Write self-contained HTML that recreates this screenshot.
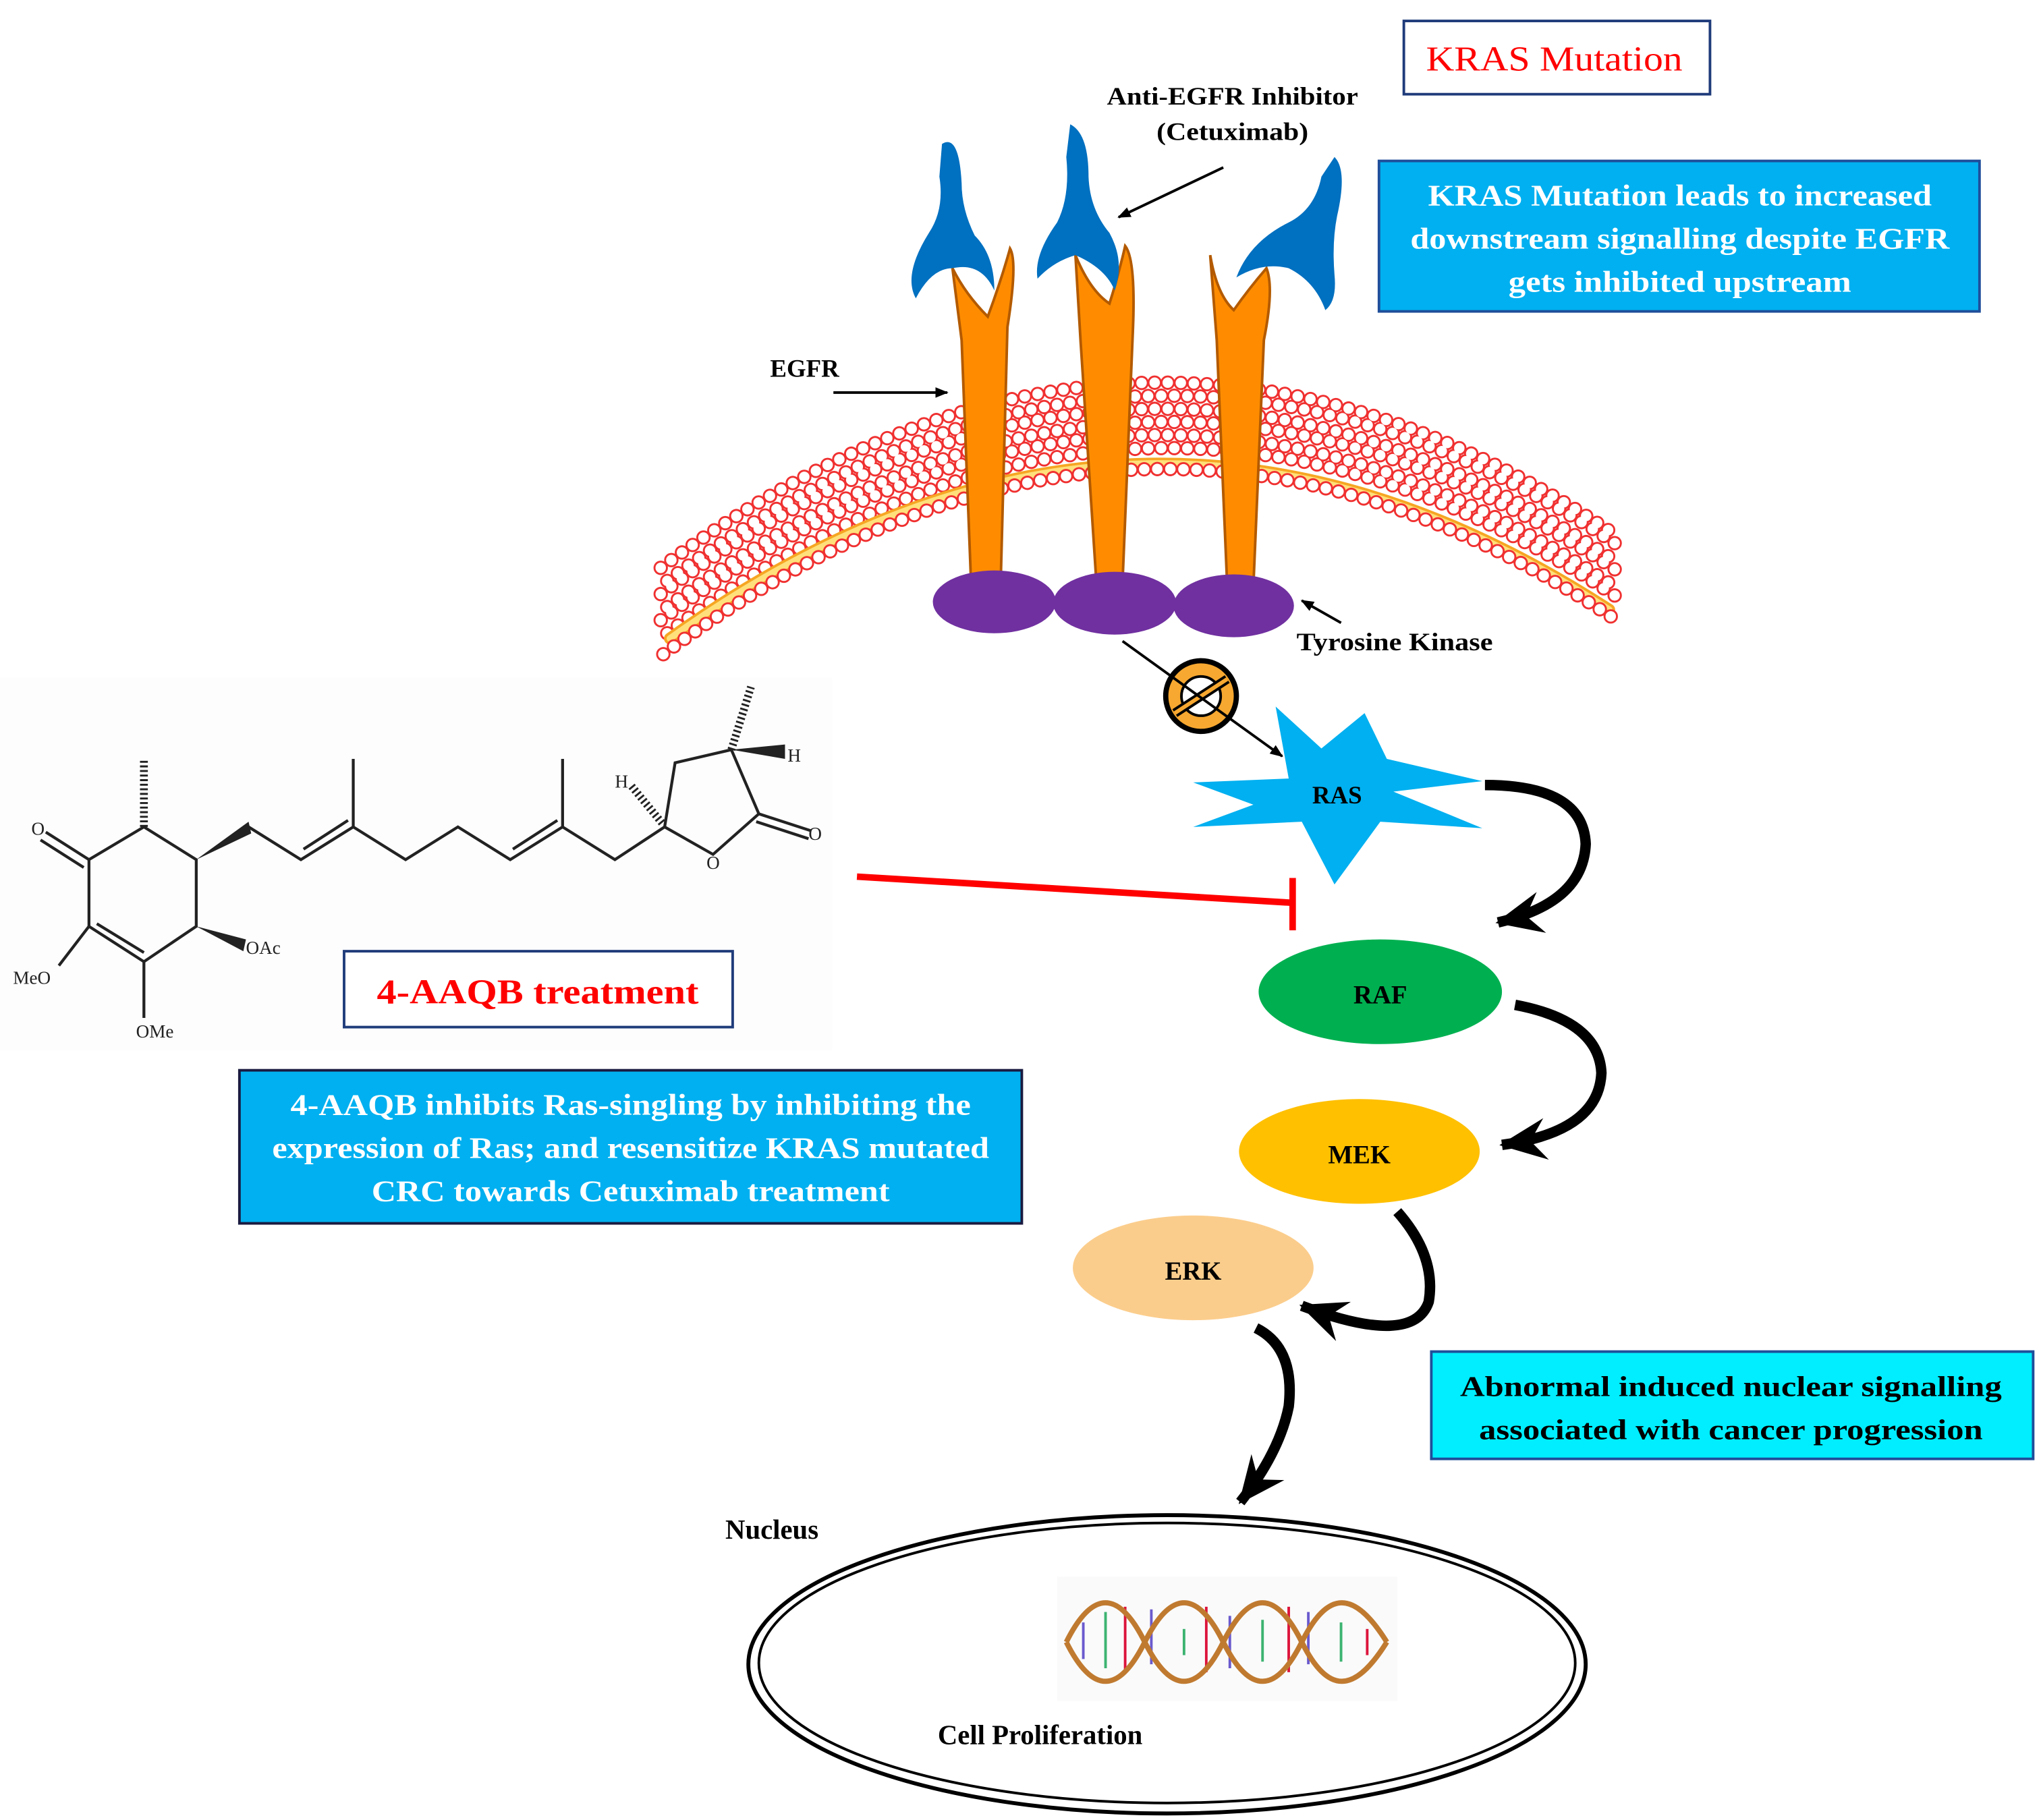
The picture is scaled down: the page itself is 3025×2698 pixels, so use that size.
<!DOCTYPE html>
<html><head><meta charset="utf-8"><style>
html,body{margin:0;padding:0;background:#fff;}
svg{display:block;}
text{font-family:"Liberation Serif",serif;}
</style></head><body>
<svg width="3025" height="2698" viewBox="0 0 1560 1391" preserveAspectRatio="none" xmlns="http://www.w3.org/2000/svg">
<defs>
<marker id="ah" markerWidth="10" markerHeight="10" refX="9" refY="5" orient="auto" markerUnits="userSpaceOnUse">
<path d="M0,1 L10,5 L0,9 Z" fill="#000"/></marker>
<marker id="big" markerWidth="40" markerHeight="40" refX="34" refY="20" orient="auto" markerUnits="userSpaceOnUse">
<path d="M0,4 L36,20 L0,36 L12,20 Z" fill="#000"/></marker>
<path id="mc" d="M505,470 Q870,200 1235,445"/>
</defs>
<rect width="1560" height="1391" fill="#fff"/>
<rect x="0" y="518" width="636" height="285" fill="#fdfdfd"/>

<!-- membrane -->
<g fill="none" stroke-linecap="round">
<g stroke="#f03030" stroke-width="11" stroke-dasharray="0 10">
<use href="#mc" transform="translate(0,-36)"/><use href="#mc" transform="translate(5,-26)"/>
<use href="#mc" transform="translate(0,-16)"/><use href="#mc" transform="translate(5,-6)"/>
<use href="#mc" transform="translate(0,4)"/><use href="#mc" transform="translate(5,14)"/>
</g>
<g stroke="#fff" stroke-width="8" stroke-dasharray="0 10">
<use href="#mc" transform="translate(0,-36)"/><use href="#mc" transform="translate(5,-26)"/>
<use href="#mc" transform="translate(0,-16)"/><use href="#mc" transform="translate(5,-6)"/>
<use href="#mc" transform="translate(0,4)"/><use href="#mc" transform="translate(5,14)"/>
</g>
<path d="M512,488 Q870,232 1230,466" stroke="#f6a623" stroke-width="9"/>
<path d="M512,488 Q870,232 1230,466" stroke="#ffe07a" stroke-width="5"/>
<g stroke="#f03030" stroke-width="11" stroke-dasharray="0 10"><use href="#mc" transform="translate(2,30)"/></g>
<g stroke="#fff" stroke-width="8" stroke-dasharray="0 10"><use href="#mc" transform="translate(2,30)"/></g>
</g>

<!-- receptors -->
<g fill="#ff8c00" stroke="#b35a00" stroke-width="2">
<path d="M728,205 Q738,225 755,242 Q765,215 772,190 Q778,200 770,250 L765,440 L742,440 L735,260 Z"/>
<path d="M822,195 Q833,222 848,232 Q855,210 860,188 Q868,198 866,250 L858,445 L838,445 L826,262 Z"/>
<path d="M925,195 Q930,225 943,237 Q955,220 968,205 Q974,220 966,260 L958,448 L938,448 L930,260 Z"/>
</g>
<!-- antibodies -->
<g fill="#0070c0">
<path d="M720,110 Q733,102 735,140 Q735,160 745,180 Q760,195 760,222 Q750,200 728,205 Q712,205 700,228 Q690,210 710,178 Q722,160 718,135 Z"/>
<path d="M818,95 Q832,102 832,135 Q833,160 848,178 Q860,200 852,222 Q845,205 822,195 Q805,200 793,213 Q790,195 808,170 Q818,150 815,120 Z"/>
<path d="M1020,120 Q1030,130 1022,165 Q1018,185 1020,210 Q1022,230 1013,237 Q1005,215 985,205 Q965,200 945,212 Q955,185 985,170 Q1005,160 1010,135 Z"/>
</g>
<!-- tyrosine kinase -->
<g fill="#7030a0">
<ellipse cx="760" cy="460" rx="47" ry="24"/><ellipse cx="852" cy="461" rx="47" ry="24"/><ellipse cx="943" cy="463" rx="46" ry="24"/>
</g>

<!-- texts top -->
<rect x="1073" y="16" width="234" height="56" fill="#fff" stroke="#1f3b7a" stroke-width="2"/>
<text x="1188" y="54" font-size="27" fill="#f00" text-anchor="middle" textLength="196" lengthAdjust="spacingAndGlyphs">KRAS Mutation</text>
<text x="942" y="80" font-size="19" font-weight="bold" text-anchor="middle" textLength="192" lengthAdjust="spacingAndGlyphs">Anti-EGFR Inhibitor</text>
<text x="942" y="107" font-size="19" font-weight="bold" text-anchor="middle" textLength="116" lengthAdjust="spacingAndGlyphs">(Cetuximab)</text>
<line x1="935" y1="128" x2="855" y2="166" stroke="#000" stroke-width="2" marker-end="url(#ah)"/>
<rect x="1054" y="123" width="459" height="115" fill="#00b0f0" stroke="#1f4e9a" stroke-width="2"/>
<g font-size="23" font-weight="bold" fill="#fff" text-anchor="middle">
<text x="1284" y="157" textLength="385" lengthAdjust="spacingAndGlyphs">KRAS Mutation leads to increased</text>
<text x="1284" y="190" textLength="412" lengthAdjust="spacingAndGlyphs">downstream signalling despite EGFR</text>
<text x="1284" y="223" textLength="262" lengthAdjust="spacingAndGlyphs">gets inhibited upstream</text>
</g>
<text x="615" y="288" font-size="19" font-weight="bold" text-anchor="middle">EGFR</text>
<line x1="637" y1="300" x2="724" y2="300" stroke="#000" stroke-width="2" marker-end="url(#ah)"/>
<text x="1066" y="497" font-size="19" font-weight="bold" text-anchor="middle" textLength="150" lengthAdjust="spacingAndGlyphs">Tyrosine  Kinase</text>
<line x1="1025" y1="476" x2="995" y2="459" stroke="#000" stroke-width="2" marker-end="url(#ah)"/>

<!-- inhibit sign -->
<circle cx="918" cy="532" r="27" fill="#f7a830" stroke="#000" stroke-width="4"/>
<circle cx="918" cy="532" r="15" fill="#fff" stroke="#000" stroke-width="2"/>
<line x1="898" y1="545" x2="938" y2="519" stroke="#000" stroke-width="7"/>
<line x1="898" y1="545" x2="938" y2="519" stroke="#f7a830" stroke-width="3"/>
<line x1="858" y1="490" x2="980" y2="578" stroke="#000" stroke-width="2" marker-end="url(#ah)"/>

<!-- RAS -->
<path d="M912,598 L985,595 L975,540 L1010,572 L1043,545 L1060,580 L1133,597 L1065,605 L1133,633 L1055,628 L1020,676 L995,628 L912,632 L958,615 Z" fill="#00b0f0"/>
<text x="1022" y="614" font-size="19" font-weight="bold" text-anchor="middle">RAS</text>

<!-- red inhibition -->
<line x1="655" y1="670" x2="988" y2="690" stroke="#f00" stroke-width="5"/>
<line x1="988" y1="671" x2="988" y2="711" stroke="#f00" stroke-width="5"/>

<!-- kinases -->
<ellipse cx="1055" cy="758" rx="93" ry="40" fill="#00b050"/>
<text x="1055" y="767" font-size="20" font-weight="bold" text-anchor="middle">RAF</text>
<ellipse cx="1039" cy="880" rx="92" ry="40" fill="#ffc000"/>
<text x="1039" y="889" font-size="20" font-weight="bold" text-anchor="middle">MEK</text>
<ellipse cx="912" cy="969" rx="92" ry="40" fill="#fbcd8c"/>
<text x="912" y="978" font-size="20" font-weight="bold" text-anchor="middle">ERK</text>

<!-- curved arrows -->
<g fill="none" stroke="#000" stroke-width="8">
<path d="M1135,600 Q1210,600 1212,645 Q1210,690 1145,705" marker-end="url(#big)"/>
<path d="M1158,768 Q1222,780 1224,820 Q1222,865 1148,875" marker-end="url(#big)"/>
<path d="M1068,926 Q1098,960 1092,995 Q1080,1030 995,998" marker-end="url(#big)"/>
<path d="M960,1015 Q990,1030 985,1075 Q978,1110 948,1148" marker-end="url(#big)"/>
</g>

<!-- abnormal box -->
<rect x="1094" y="1033" width="460" height="82" fill="#00eeff" stroke="#1f4e9a" stroke-width="2"/>
<g font-size="22" font-weight="bold" text-anchor="middle">
<text x="1323" y="1067" textLength="414" lengthAdjust="spacingAndGlyphs">Abnormal induced nuclear signalling</text>
<text x="1323" y="1100" textLength="385" lengthAdjust="spacingAndGlyphs">associated with cancer progression</text>
</g>

<!-- nucleus -->
<text x="590" y="1176" font-size="21" font-weight="bold" text-anchor="middle">Nucleus</text>
<ellipse cx="892" cy="1272" rx="320" ry="114" fill="none" stroke="#000" stroke-width="3"/>
<ellipse cx="892" cy="1271" rx="312" ry="107" fill="none" stroke="#000" stroke-width="2"/>
<rect x="808" y="1205" width="260" height="95" fill="#fafafa"/>
<g stroke-width="2">
<g stroke="#6a5acd"><line x1="828" y1="1240" x2="828" y2="1268"/><line x1="880" y1="1230" x2="880" y2="1272"/><line x1="940" y1="1235" x2="940" y2="1275"/><line x1="1000" y1="1232" x2="1000" y2="1272"/></g>
<g stroke="#3cb371"><line x1="845" y1="1232" x2="845" y2="1275"/><line x1="905" y1="1245" x2="905" y2="1265"/><line x1="965" y1="1238" x2="965" y2="1270"/><line x1="1025" y1="1240" x2="1025" y2="1270"/></g>
<g stroke="#dc143c"><line x1="860" y1="1228" x2="860" y2="1276"/><line x1="922" y1="1228" x2="922" y2="1278"/><line x1="985" y1="1228" x2="985" y2="1278"/><line x1="1045" y1="1245" x2="1045" y2="1265"/></g>
</g>
<g fill="none" stroke="#c07a30" stroke-width="4">
<path d="M815,1255 C835,1215 855,1215 875,1255 S915,1295 935,1255 S975,1215 995,1255 S1035,1295 1060,1255"/>
<path d="M815,1255 C835,1295 855,1295 875,1255 S915,1215 935,1255 S975,1295 995,1255 S1035,1215 1060,1255"/>
</g>
<text x="795" y="1333" font-size="21" font-weight="bold" text-anchor="middle">Cell Proliferation</text>

<!-- molecule -->
<g stroke="#222" stroke-width="2.2" fill="none">
<path d="M68,657 L110,632 L150,657 L150,708 L110,735 L68,708 Z"/>
<line x1="74" y1="706" x2="110" y2="728"/>
<line x1="68" y1="657" x2="35" y2="636"/><line x1="64" y1="663" x2="31" y2="642"/>
<line x1="68" y1="708" x2="45" y2="738"/>
<line x1="110" y1="735" x2="110" y2="778"/>
<path d="M190,632 L230,657 L270,632 L310,657 L350,632 L390,657 L430,632 L470,657 L508,632"/>
<line x1="232" y1="649" x2="266" y2="627"/><line x1="392" y1="649" x2="426" y2="627"/>
<line x1="270" y1="632" x2="270" y2="580"/><line x1="430" y1="632" x2="430" y2="580"/>
<path d="M508,632 L516,583 L559,573 L580,622 L545,653 Z"/>
<line x1="580" y1="622" x2="620" y2="635"/><line x1="578" y1="628" x2="618" y2="641"/>
</g>
<g stroke="#222" stroke-width="2" stroke-dasharray="1.5 2">
<line x1="110" y1="632" x2="110" y2="580" stroke-width="6"/>
<line x1="559" y1="573" x2="574" y2="525" stroke-width="6"/>
<line x1="506" y1="629" x2="482" y2="600" stroke-width="6"/>
</g>
<path d="M150,657 L190,628 L192,637 Z" fill="#222"/>
<path d="M150,708 L188,718 L186,727 Z" fill="#222"/>
<path d="M559,573 L600,569 L600,580 Z" fill="#222"/>
<g font-family="Liberation Sans,sans-serif" font-size="14" fill="#222">
<text x="24" y="638">O</text><text x="618" y="642">O</text><text x="540" y="664">O</text>
<text x="188" y="729">OAc</text><text x="10" y="752">MeO</text><text x="104" y="793">OMe</text>
<text x="470" y="602">H</text><text x="602" y="582">H</text>
</g>

<rect x="263" y="727" width="297" height="58" fill="#fff" stroke="#1f3b7a" stroke-width="2"/>
<text x="411" y="767" font-size="27" font-weight="bold" fill="#f00" text-anchor="middle" textLength="246" lengthAdjust="spacingAndGlyphs">4-AAQB treatment</text>
<rect x="183" y="818" width="598" height="117" fill="#00b0f0" stroke="#1a1a40" stroke-width="2"/>
<g font-size="23" font-weight="bold" fill="#fff" text-anchor="middle">
<text x="482" y="852" textLength="520" lengthAdjust="spacingAndGlyphs">4-AAQB inhibits Ras-singling by inhibiting the</text>
<text x="482" y="885" textLength="548" lengthAdjust="spacingAndGlyphs">expression of Ras; and resensitize KRAS mutated</text>
<text x="482" y="918" textLength="396" lengthAdjust="spacingAndGlyphs">CRC  towards  Cetuximab  treatment</text>
</g>
</svg>
</body></html>
